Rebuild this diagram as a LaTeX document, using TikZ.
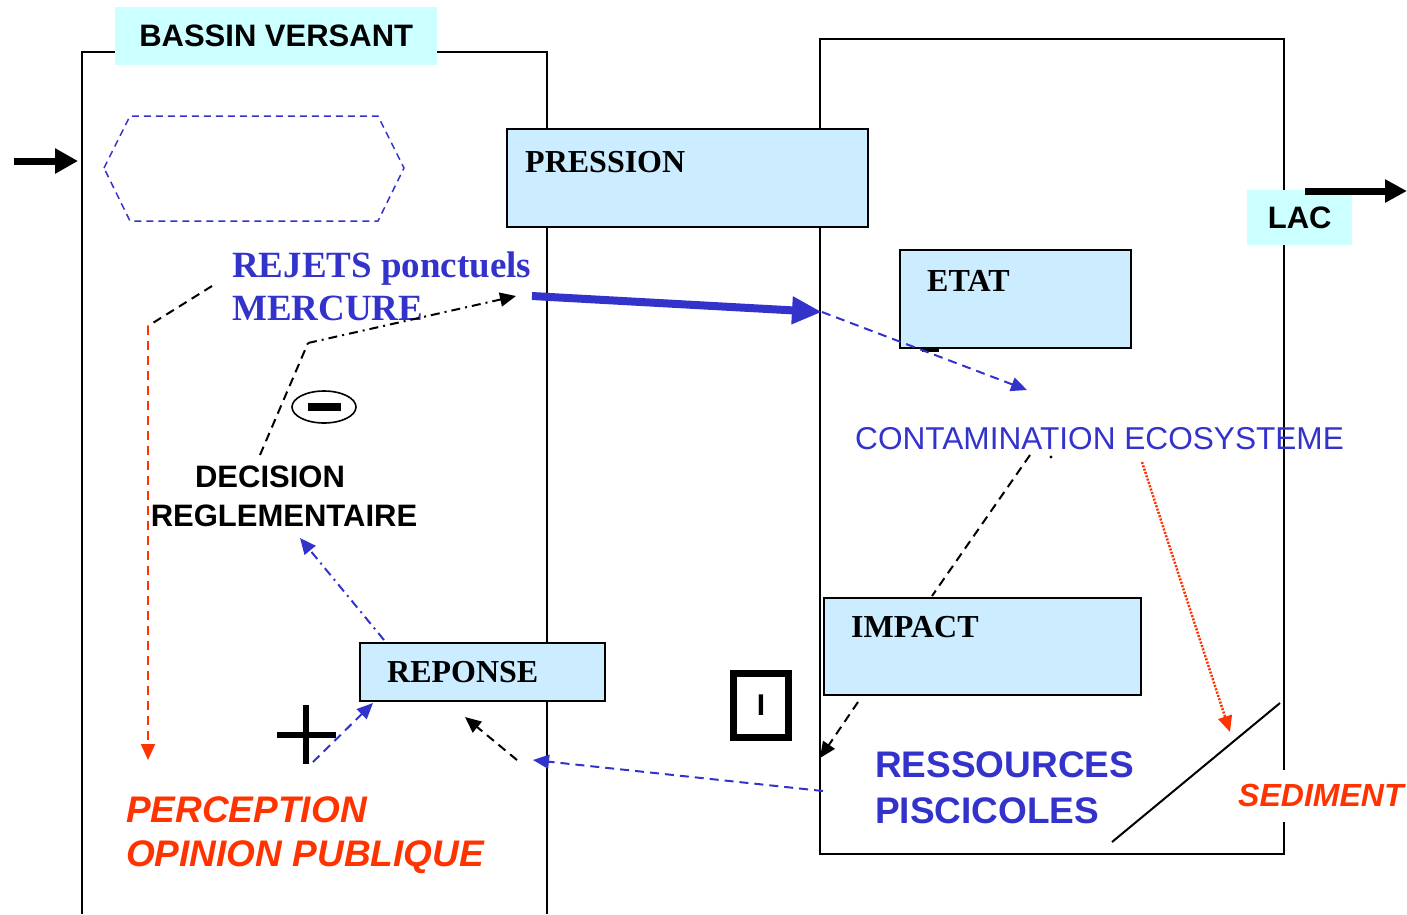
\documentclass[tikz,border=0pt]{standalone}
\usepackage{fontspec}
\setmainfont{Liberation Serif}
\setsansfont{Liberation Sans}
\usetikzlibrary{arrows.meta,shapes.geometric}

\definecolor{boxblue}{RGB}{204,236,255}
\definecolor{zonecyan}{RGB}{204,255,255}
\definecolor{txtblue}{RGB}{51,51,204}
\definecolor{txtred}{RGB}{255,51,0}

\begin{document}
\begin{tikzpicture}
  [x=1pt,y=-1pt,
   frame/.style={line width=1.6pt},
   zone/.style={fill=zonecyan,inner sep=0pt,anchor=north west,font=\sffamily\bfseries\fontsize{31}{36}\selectfont},
   box/.style={draw,line width=1.6pt,fill=boxblue,anchor=north west,inner sep=0pt},
   boxtext/.style={anchor=base west,inner sep=0pt,font=\bfseries\fontsize{32}{38}\selectfont},
   tip/.style={-{Triangle[length=16pt,width=14pt]}},
   link/.style={line width=2pt,dash pattern=on 9pt off 6pt},
   dotlink/.style={line width=2pt,dash pattern=on 9pt off 5pt on 2pt off 5pt}]
  \useasboundingbox (0,0) rectangle (1407,914);

  % the two compartments
  \draw[frame] (82,914) -- (82,52) -- (547,52) -- (547,914);
  \draw[frame] (820,39) rectangle (1284,854);
  \node[zone,minimum width=322pt,minimum height=58pt] (bassin) at (115,7) {BASSIN VERSANT};
  \node[zone,minimum width=105pt,minimum height=55pt] (lac) at (1247,190) {LAC};

  % empty source
  \draw[txtblue,line width=1.5pt,dash pattern=on 7pt off 5pt]
    (104,168) -- (130,116) -- (378,116) -- (404,168) -- (378,221) -- (130,221) -- cycle;

  % boxes
  \node[box,minimum width=361pt,minimum height=98pt] (pression) at (506,128) {};
  \node[box,minimum width=231pt,minimum height=98pt] (etat) at (899,249) {};
  \node[box,minimum width=317pt,minimum height=97pt] (impact) at (823,597) {};
  \node[box,minimum width=245pt,minimum height=58pt] (reponse) at (359,642) {};
  \node[boxtext] (pression-t) at ([shift={(19,44)}]pression.north west) {PRESSION};
  \node[boxtext] (etat-t) at ([shift={(28,42)}]etat.north west) {ETAT};
  \node[boxtext] (impact-t) at ([shift={(28,40)}]impact.north west) {IMPACT};
  \node[boxtext] (reponse-t) at ([shift={(28,40)}]reponse.north west) {REPONSE};
  \fill (922,347) rectangle (939,352);

  % texts (base = baseline of the last line)
  \node[anchor=base west,inner sep=0pt,align=left,text=txtblue,font=\bfseries\fontsize{37}{43}\selectfont]
    (rejets) at (232,320) {REJETS ponctuels\\MERCURE};
  \node[anchor=base,inner sep=0pt,align=center,font=\sffamily\bfseries\fontsize{31}{39}\selectfont]
    (decision) at (284,526) {DECISION\hspace*{28pt}\\REGLEMENTAIRE};
  \node[anchor=base west,inner sep=0pt,text=txtblue,font=\sffamily\fontsize{31.6}{38}\selectfont]
    (contam) at (855,449) {CONTAMINATION ECOSYSTEME};
  \node[anchor=base west,inner sep=0pt,align=left,text=txtblue,font=\sffamily\bfseries\fontsize{37}{46}\selectfont]
    (ressources) at (875,823) {RESSOURCES\\PISCICOLES};
  \node[anchor=base west,inner sep=0pt,align=left,text=txtred,font=\sffamily\bfseries\itshape\fontsize{37}{44}\selectfont]
    (perception) at (126,866) {PERCEPTION\\OPINION PUBLIQUE};
  \node[anchor=base west,fill=white,inner xsep=3pt,inner ysep=12pt,text height=24pt,text depth=4pt,
    text=txtred,font=\sffamily\bfseries\itshape\fontsize{32}{38}\selectfont]
    (sediment) at (1235,806) {SEDIMENT};

  % signs
  \node[draw,ellipse,line width=1.6pt,minimum width=64pt,minimum height=32pt,inner sep=0pt]
    (moins) at (324,407) {\rule[-4pt]{33pt}{8pt}};
  \node[draw,line width=7pt,minimum width=55pt,minimum height=64pt,inner sep=0pt,
    font=\sffamily\bfseries\fontsize{30}{36}\selectfont] (inter) at (761,705) {I};
  \coordinate (plus) at (306,735);
  \draw[line width=6pt] ([shift={(-29,0)}]plus) -- ([shift={(30,0)}]plus)
    ([shift={(0,-30)}]plus) -- ([shift={(0,29)}]plus);

  % end points of the connectors
  \coordinate (in-a) at (14,161);      \coordinate (in-b) at (78,161);
  \coordinate (out-a) at (1305,191);   \coordinate (out-b) at (1407,191);
  \coordinate (rejet-a) at (532,296);  \coordinate (rejet-b) at (822,312);
  \coordinate (etat-b) at (1027,390);
  \coordinate (contam-a) at (1030,455); \coordinate (impact-a) at (932,596);
  \coordinate (sed-a) at (1142,462);   \coordinate (sed-b) at (1230,732);
  \coordinate (sed-c) at (1112,842);   \coordinate (sed-d) at (1280,703);
  \coordinate (impact-b) at (858,702); \coordinate (impact-c) at (820,758);
  \coordinate (res-a) at (823,791);    \coordinate (res-b) at (533,760);
  \coordinate (rep-a) at (517,760);    \coordinate (rep-b) at (465,717);
  \coordinate (plus-a) at (313,762);   \coordinate (rep-c) at (373,703);
  \coordinate (rep-d) at (384,640);    \coordinate (dec-a) at (300,538);
  \coordinate (dec-b) at (260,455);    \coordinate (dec-c) at (308,343);
  \coordinate (rejet-c) at (516,296);
  \coordinate (rejet-d) at (212,286);  \coordinate (perc-a) at (148,326);
  \coordinate (perc-b) at (148,760);

  % flows
  \draw[line width=7pt,-{Triangle[length=23pt,width=24pt]}] (in-a) -- (in-b);
  \draw[line width=7pt,-{Triangle[length=22pt,width=22pt]}] (out-a) -- (out-b);
  \draw[txtblue,line width=8pt,-{Triangle[length=30pt,width=26pt]}] (rejet-a) -- (rejet-b);
  \draw[txtblue,link,tip] (rejet-b) -- (etat-b);
  \draw[link] (contam-a) -- (impact-a);
  \fill (1051,457) circle (1.6pt);
  \draw[txtred,line width=2.5pt,dash pattern=on 2pt off 1.5pt,tip] (sed-a) -- (sed-b);
  \draw[line width=2pt] (sed-c) -- (sed-d);
  \draw[link,tip] (impact-b) -- (impact-c);
  \draw[txtblue,link,tip] (res-a) -- (res-b);
  \draw[link,tip] (rep-a) -- (rep-b);
  \draw[txtblue,link,tip] (plus-a) -- (rep-c);
  \draw[txtblue,dotlink,tip] (rep-d) -- (dec-a);
  \draw[link] (dec-b) -- (dec-c);
  \draw[dotlink,tip] (dec-c) -- (rejet-c);
  \draw[link] (rejet-d) -- (perc-a);
  \draw[txtred,link,tip] (perc-a) -- (perc-b);
\end{tikzpicture}
\end{document}
